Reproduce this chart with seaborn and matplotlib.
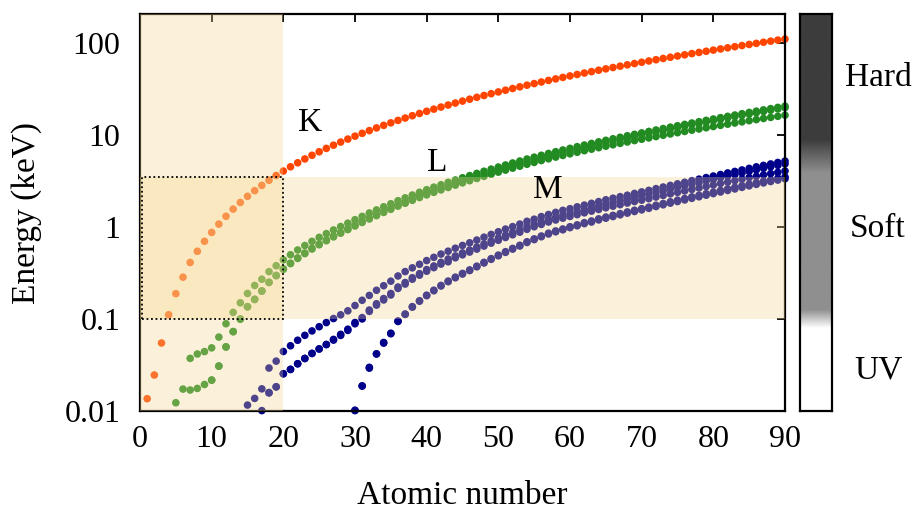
import numpy as np
import pandas as pd
import matplotlib
matplotlib.use("Agg")
import matplotlib.pyplot as plt
from matplotlib.patches import Rectangle
import seaborn as sns

# absorption edge energies (keV); each list starts at Z given
K_START = 1
K_EDGE = [0.0136, 0.0246, 0.0548, 0.111, 0.188, 0.284, 0.410, 0.543, 0.697, 0.870,
          1.071, 1.303, 1.560, 1.839, 2.146, 2.472, 2.822, 3.206, 3.608, 4.038,
          4.492, 4.966, 5.465, 5.989, 6.539, 7.112, 7.709, 8.333, 8.979, 9.659,
          10.367, 11.103, 11.867, 12.658, 13.474, 14.326, 15.200, 16.105, 17.038, 17.998,
          18.986, 20.000, 21.044, 22.117, 23.220, 24.350, 25.514, 26.711, 27.940, 29.200,
          30.491, 31.814, 33.169, 34.561, 35.985, 37.441, 38.925, 40.443, 41.991, 43.569,
          45.184, 46.834, 48.519, 50.239, 51.996, 53.789, 55.618, 57.486, 59.390, 61.332,
          63.314, 65.351, 67.416, 69.525, 71.676, 73.871, 76.111, 78.395, 80.725, 83.102,
          85.530, 88.005, 90.526, 93.105, 95.730, 98.404, 101.137, 103.922, 106.755, 109.651]

L1_START = 7
L1_EDGE = [0.0373, 0.0416, 0.0442,
           0.0485, 0.0635, 0.0887, 0.1178, 0.1497, 0.189, 0.2309, 0.270, 0.3263, 0.3786,
           0.4384, 0.498, 0.5609, 0.6267, 0.696, 0.7691, 0.8446, 0.9251, 1.0086, 1.0967,
           1.1962, 1.299, 1.4146, 1.527, 1.652, 1.782, 1.921, 2.065, 2.216, 2.373,
           2.532, 2.698, 2.866, 3.043, 3.224, 3.412, 3.604, 3.806, 4.018, 4.238,
           4.465, 4.698, 4.939, 5.188, 5.453, 5.714, 5.989, 6.266, 6.549, 6.835,
           7.126, 7.428, 7.737, 8.052, 8.376, 8.708, 9.046, 9.394, 9.751, 10.116,
           10.486, 10.870, 11.271, 11.682, 12.100, 12.527, 12.968, 13.419, 13.880, 14.353,
           14.839, 15.347, 15.861, 16.388, 16.939, 17.493, 18.049, 18.639, 19.237, 19.840,
           20.472]

L2_START = 10
L2_EDGE = [0.0217, 0.0307, 0.0498, 0.0730, 0.0998, 0.136, 0.1636, 0.202, 0.2506, 0.2973,
           0.3497, 0.4036, 0.4602, 0.5198, 0.5838, 0.6499, 0.7199, 0.7932, 0.8700, 0.9523,
           1.0449, 1.1432, 1.2481, 1.3591, 1.4743, 1.596, 1.7309, 1.864, 2.007, 2.156,
           2.307, 2.465, 2.625, 2.793, 2.967, 3.146, 3.330, 3.524, 3.727, 3.938,
           4.156, 4.380, 4.612, 4.852, 5.107, 5.359, 5.624, 5.891, 6.164, 6.440,
           6.722, 7.013, 7.312, 7.617, 7.930, 8.252, 8.581, 8.918, 9.264, 9.617,
           9.978, 10.349, 10.739, 11.136, 11.544, 11.959, 12.385, 12.824, 13.273, 13.734,
           14.209, 14.698, 15.200, 15.711, 16.244, 16.785, 17.337, 17.907, 18.484, 19.083,
           19.693]

L3_START = 5
L3_EDGE = [0.0123, 0.0173, 0.0169, 0.0176, 0.0194,
           0.0216, 0.0308, 0.0495, 0.0726, 0.0994, 0.135, 0.1625, 0.200, 0.2484, 0.2946,
           0.3462, 0.3987, 0.4538, 0.5121, 0.5741, 0.6387, 0.7068, 0.7781, 0.8527, 0.9327,
           1.0218, 1.1164, 1.2170, 1.3236, 1.4339, 1.550, 1.6784, 1.804, 1.940, 2.080,
           2.223, 2.371, 2.520, 2.677, 2.838, 3.004, 3.173, 3.351, 3.538, 3.730,
           3.929, 4.132, 4.341, 4.557, 4.786, 5.012, 5.247, 5.483, 5.723, 5.964,
           6.208, 6.459, 6.716, 6.977, 7.243, 7.514, 7.790, 8.071, 8.358, 8.648,
           8.944, 9.244, 9.561, 9.881, 10.207, 10.535, 10.871, 11.215, 11.564, 11.919,
           12.284, 12.658, 13.035, 13.419, 13.814, 14.214, 14.619, 15.031, 15.444, 15.871,
           16.300]

M1_START = 15
M1_EDGE = [0.0116, 0.0137, 0.0174, 0.0293, 0.0348,
           0.0443, 0.0511, 0.0587, 0.0663, 0.0741, 0.0823, 0.0913, 0.1010, 0.1108, 0.1225,
           0.1398, 0.1595, 0.1801, 0.2047, 0.2296, 0.257, 0.2928, 0.3267, 0.3587, 0.392,
           0.4303, 0.4666, 0.5063, 0.544, 0.5861, 0.6281, 0.6716, 0.719, 0.772, 0.8272,
           0.8847, 0.946, 1.006, 1.072, 1.1487, 1.211, 1.293, 1.362, 1.436, 1.511,
           1.575, 1.650, 1.723, 1.800, 1.881, 1.968, 2.047, 2.128, 2.207, 2.307,
           2.398, 2.491, 2.601, 2.708, 2.820, 2.932, 3.049, 3.174, 3.296, 3.425,
           3.562, 3.704, 3.851, 3.999, 4.149, 4.317, 4.482, 4.652, 4.822, 5.002,
           5.182]

M2_START = 17
M2_EDGE = [0.0101, 0.0159, 0.0183,
           0.0254, 0.0283, 0.0326, 0.0372, 0.0422, 0.0472, 0.0527, 0.0589, 0.0680, 0.0773,
           0.0914, 0.1035, 0.1249, 0.1462, 0.1665, 0.189, 0.2222, 0.2487, 0.2803, 0.3106,
           0.3435, 0.3761, 0.4116, 0.4476, 0.4835, 0.5213, 0.5599, 0.6038, 0.6526, 0.7032,
           0.7565, 0.8127, 0.8708, 0.931, 1.0021, 1.071, 1.137, 1.209, 1.274, 1.337,
           1.403, 1.471, 1.541, 1.614, 1.688, 1.768, 1.842, 1.923, 2.006, 2.090,
           2.173, 2.264, 2.365, 2.469, 2.575, 2.682, 2.792, 2.909, 3.027, 3.148,
           3.279, 3.416, 3.554, 3.696, 3.854, 4.008, 4.159, 4.327, 4.490, 4.656,
           4.830]

M3_START = 18
M3_EDGE = [0.0157, 0.0183,
           0.0254, 0.0283, 0.0326, 0.0372, 0.0422, 0.0472, 0.0527, 0.0599, 0.0662, 0.0751,
           0.0886, 0.1000, 0.1208, 0.1412, 0.1607, 0.182, 0.2144, 0.2391, 0.2700, 0.2988,
           0.3298, 0.3606, 0.3940, 0.4177, 0.4614, 0.4965, 0.5323, 0.5730, 0.6184, 0.6653,
           0.7146, 0.7664, 0.8200, 0.875, 0.9406, 1.003, 1.063, 1.128, 1.187, 1.242,
           1.297, 1.357, 1.420, 1.481, 1.544, 1.611, 1.676, 1.741, 1.812, 1.885,
           1.950, 2.024, 2.108, 2.194, 2.281, 2.367, 2.457, 2.551, 2.645, 2.743,
           2.847, 2.957, 3.066, 3.177, 3.302, 3.426, 3.538, 3.663, 3.792, 3.909,
           4.046]

M4_START = 30
M4_EDGE = [0.0102, 0.0187, 0.0298, 0.0417, 0.0555, 0.070, 0.0950, 0.1130, 0.1360, 0.1577,
           0.1811, 0.2050, 0.2311, 0.2576, 0.2842, 0.3119, 0.3405, 0.3740, 0.4119, 0.4514,
           0.4932, 0.5375, 0.5834, 0.6308, 0.6890, 0.7405, 0.7957, 0.853, 0.9024, 0.9483,
           1.0033, 1.052, 1.1109, 1.1586, 1.2219, 1.2769, 1.333, 1.392, 1.453, 1.515,
           1.576, 1.639, 1.716, 1.793, 1.872, 1.949, 2.031, 2.116, 2.202, 2.291,
           2.385, 2.485, 2.586, 2.688, 2.798, 2.909, 3.022, 3.136, 3.248, 3.370,
           3.491]

M5_START = 30
M5_EDGE = [0.0101, 0.0187, 0.0292, 0.0417, 0.0546, 0.069, 0.0938, 0.112, 0.1342, 0.1558,
           0.1788, 0.2023, 0.2279, 0.2539, 0.2800, 0.3072, 0.3352, 0.3683, 0.4052, 0.4439,
           0.4849, 0.5282, 0.5730, 0.6193, 0.6764, 0.7266, 0.7805, 0.836, 0.8838, 0.9288,
           0.9804, 1.027, 1.0834, 1.1275, 1.1896, 1.2411, 1.2926, 1.351, 1.409, 1.468,
           1.528, 1.589, 1.662, 1.735, 1.809, 1.883, 1.960, 2.040, 2.122, 2.206,
           2.295, 2.389, 2.484, 2.580, 2.683, 2.787, 2.892, 3.000, 3.105, 3.219,
           3.332]

SHELL_COLORS = {"K": "#ff4500", "L": "#228b22", "M": "#00008b"}
BAND_NAMES = ["Hard", "Soft", "UV"]

series = [
    ("K", K_START, K_EDGE),
    ("L", L1_START, L1_EDGE), ("L", L2_START, L2_EDGE), ("L", L3_START, L3_EDGE),
    ("M", M1_START, M1_EDGE), ("M", M2_START, M2_EDGE), ("M", M3_START, M3_EDGE),
    ("M", M4_START, M4_EDGE), ("M", M5_START, M5_EDGE),
]
rows = []
for shell, z0, vals in series:
    for i, e in enumerate(vals):
        rows.append({"Z": z0 + i, "E": e, "shell": shell})
df = pd.DataFrame(rows)

sns.set_theme(style="white")
plt.rcParams["font.family"] = ["Liberation Serif", "DejaVu Serif"]
plt.rcParams["text.color"] = "black"
plt.rcParams["axes.labelcolor"] = "black"

W, H = 913, 509
fig = plt.figure(figsize=(W / 100, H / 100), dpi=100)
ax = fig.add_axes([140 / W, 98 / H, 645 / W, 397 / H])

sns.scatterplot(data=df, x="Z", y="E", hue="shell", palette=SHELL_COLORS,
                s=30, linewidth=0, legend=False, ax=ax, zorder=2, clip_on=False)

ax.set_yscale("log")
ax.set_xlim(0, 90)
ax.set_ylim(0.01, 205)

# shaded regions lie over the points, tinting them
shade = "#f5d68c"
ax.axvspan(0, 20, color=shade, alpha=0.32, lw=0, zorder=3)
ax.axhspan(0.1, 3.5, color=shade, alpha=0.32, lw=0, zorder=3)
ax.add_patch(Rectangle((0.25, 0.1), 19.75, 3.4, fill=False, ls=(0, (1, 1.5)),
                       lw=1.3, ec="black", zorder=4))

ax.set_xticks(range(0, 91, 10))
ax.set_yticks([0.01, 0.1, 1, 10, 100])
ax.set_yticklabels(["0.01", "0.1", "1", "10", "100"])
ax.minorticks_off()
ax.tick_params(axis="both", direction="in", length=6, width=1.3, top=True, right=True,
               labelsize=23, colors="black")
ax.tick_params(axis="x", pad=10)
ax.tick_params(axis="y", pad=14)
for sp in ax.spines.values():
    sp.set_linewidth(1.6)
    sp.set_color("black")
ax.set_xlabel("Atomic number", fontsize=24, labelpad=19)
ax.set_ylabel("Energy (keV)", fontsize=24, labelpad=16)

ax.text(23.7, 13.5, "K", fontsize=24, ha="center", va="center", zorder=5)
ax.text(41.4, 5.0, "L", fontsize=24, ha="center", va="center", zorder=5)
ax.text(56.9, 2.5, "M", fontsize=24, ha="center", va="center", zorder=5)

# grey scale bar for the energy bands
cax = fig.add_axes([800 / W, 98 / H, 32 / W, 397 / H])
logE = np.linspace(-2, np.log10(205), 400)
stop_pos = [-2.0, -1.10, -0.90, 0.59, 0.95, 2.4]
stop_val = [1.0, 1.0, 0.56, 0.56, 0.24, 0.24]
grey = np.interp(logE, stop_pos, stop_val)
cax.imshow(grey[:, None], aspect="auto", cmap="gray", vmin=0, vmax=1,
           origin="lower", extent=[0, 1, logE[0], logE[-1]])
cax.set_xticks([])
cax.set_yticks([])
for sp in cax.spines.values():
    sp.set_linewidth(1.6)
    sp.set_color("black")

for name, ypx in zip(BAND_NAMES, [78, 229, 370]):
    fig.text(878 / W, 1 - ypx / H, name, fontsize=24, ha="center", va="center")

fig.savefig("out.png", dpi=100)
